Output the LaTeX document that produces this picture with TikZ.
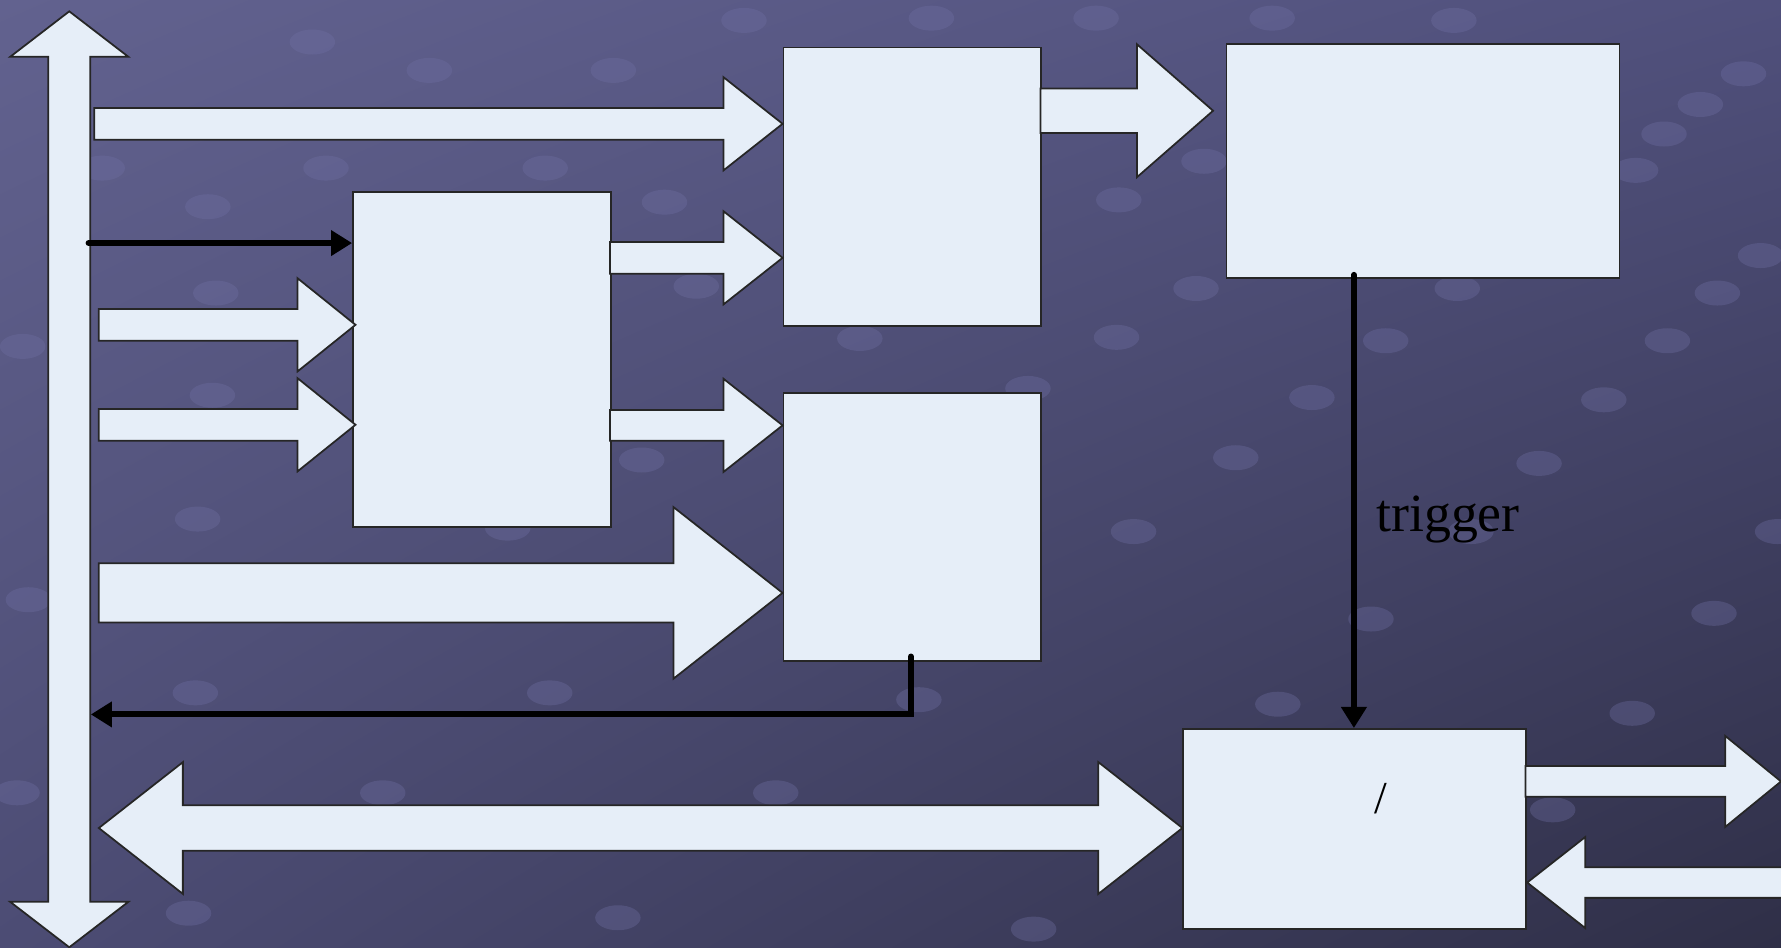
\documentclass[tikz,border=0pt]{standalone}
\usepackage{fontspec}
\setmainfont{Liberation Serif}
\usetikzlibrary{arrows.meta,calc,shadings}

\definecolor{panel}{HTML}{E6EEF8}
\definecolor{bgA}{HTML}{62628F}
\definecolor{bgB}{HTML}{50507C}
\definecolor{bgC}{HTML}{4C4C74}
\definecolor{bgD}{HTML}{2F2F47}
\definecolor{knob}{HTML}{7070A4}

\tikzset{
  box/.style={draw=black!85, line width=0.5pt, fill=panel, rectangle, inner sep=0pt, anchor=north west},
  block/.style={draw=black!85, line width=0.5pt, fill=panel, line join=miter},
  wire/.style={draw=black, line width=1.7pt, line cap=round,
    -{Triangle[length=6pt,width=7pt]}},
  knobdot/.style={fill=knob, opacity=0.35},
  lbl/.style={font=\fontsize{15.3}{18}\selectfont, text=black, inner sep=0pt},
}

% rightward block arrow: tail, tip, shaft half width, head half width, head length
\newcommand\rblock[5]{%
  \draw[block] ($(#1)+(0,-#3)$) -- ($(#2)+(-#5,-#3)$) -- ($(#2)+(-#5,-#4)$) -- (#2)
    -- ($(#2)+(-#5,#4)$) -- ($(#2)+(-#5,#3)$) -- ($(#1)+(0,#3)$) -- cycle;}
% leftward block arrow: tail, tip, shaft half width, head half width, head length
\newcommand\lblock[5]{%
  \draw[block] ($(#1)+(0,-#3)$) -- ($(#2)+(#5,-#3)$) -- ($(#2)+(#5,-#4)$) -- (#2)
    -- ($(#2)+(#5,#4)$) -- ($(#2)+(#5,#3)$) -- ($(#1)+(0,#3)$) -- cycle;}
% two-headed horizontal block arrow: left tip, right tip, shaft half, head half, head length
\newcommand\hdblock[5]{%
  \draw[block] (#1) -- ($(#1)+(#5,-#4)$) -- ($(#1)+(#5,-#3)$) -- ($(#2)+(-#5,-#3)$)
    -- ($(#2)+(-#5,-#4)$) -- (#2) -- ($(#2)+(-#5,#4)$) -- ($(#2)+(-#5,#3)$)
    -- ($(#1)+(#5,#3)$) -- ($(#1)+(#5,#4)$) -- cycle;}
% two-headed vertical block arrow: top tip, bottom tip, shaft half, head half, head length
\newcommand\vdblock[5]{%
  \draw[block] (#1) -- ($(#1)+(#4,#5)$) -- ($(#1)+(#3,#5)$) -- ($(#2)+(#3,-#5)$)
    -- ($(#2)+(#4,-#5)$) -- (#2) -- ($(#2)+(-#4,-#5)$) -- ($(#2)+(-#3,-#5)$)
    -- ($(#1)+(-#3,#5)$) -- ($(#1)+(-#4,#5)$) -- cycle;}

\begin{document}
\begin{tikzpicture}[x=0.011358cm, y=-0.011358cm]
  \useasboundingbox (0,0) rectangle (1568,834);
  \begin{scope}
    \clip (0,0) rectangle (1568,834);
    % background
    \shade[upper left=bgA, upper right=bgB, lower left=bgC, lower right=bgD]
      (0,0) rectangle (1568,834);
    % texture of small knobs
    \foreach \kx/\ky in {275/37,378/62,540/62,655/18,820/16,965/16,1120/16,1280/18,
      1535/65,1497/92,1465/118,90/148,183/182,287/148,480/148,585/178,985/176,
      1053/254,1283/254,1512/258,1220/300,1468/300,983/297,757/298,190/258,613/252,
      1155/350,1412/352,905/342,187/348,565/405,1088/403,1355/408,174/457,447/465,
      998/468,1295/468,1565/468,25/528,1207/545,1509/540,172/610,484/610,809/616,
      1125/620,1437/628,15/698,337/698,683/698,1367/713,166/804,544/808,910/818,
      1060/142,1440/150,1550/225,20/305}
      \fill[knobdot] (\kx,\ky) ellipse [x radius=20, y radius=11];

    % vertical bus
    \coordinate (bustop) at (61,10);
    \coordinate (busbot) at (61,834);
    \vdblock{bustop}{busbot}{18.5}{52}{40}

    % boxes
    \node[box, minimum width=227*0.011358cm, minimum height=245*0.011358cm] (A) at (689,41) {};
    \node[box, minimum width=346*0.011358cm, minimum height=206*0.011358cm] (B) at (1079,38) {};
    \node[box, minimum width=227*0.011358cm, minimum height=295*0.011358cm] (C) at (310,168) {};
    \node[box, minimum width=227*0.011358cm, minimum height=236*0.011358cm] (D) at (689,345) {};
    \node[box, minimum width=302*0.011358cm, minimum height=176*0.011358cm] (E) at (1041,641) {};

    % block arrows
    \coordinate (topin) at (83,109);
    \rblock{topin}{A.west |- topin}{14}{41}{52}
    \coordinate (ab) at (916,97.5);
    \coordinate (abtip) at ($(B.west |- ab)+(-11,0)$);
    \rblock{ab}{abtip}{19.5}{58.5}{67}
    \coordinate (in1) at (87,286);
    \coordinate (in1tip) at ($(C.west |- in1)+(3,0)$);
    \rblock{in1}{in1tip}{14}{41}{51}
    \coordinate (in2) at (87,374);
    \coordinate (in2tip) at ($(C.west |- in2)+(3,0)$);
    \rblock{in2}{in2tip}{14}{41}{51}
    \coordinate (ca) at (537,227);
    \rblock{ca}{A.west |- ca}{14}{41}{52}
    \coordinate (cd) at (537,374.5);
    \rblock{cd}{D.west |- cd}{13.5}{41}{52}
    \coordinate (bigin) at (87,522);
    \rblock{bigin}{D.west |- bigin}{26}{75.5}{96}
    \coordinate (dl) at (87,729);
    \hdblock{dl}{E.west |- dl}{20}{58}{74}
    \coordinate (eout) at (1343,688);
    \coordinate (eouttip) at (1568,688);
    \rblock{eout}{eouttip}{13.5}{40}{49}
    \coordinate (einsrc) at (1580,777);
    \lblock{einsrc}{E.east |- einsrc}{13.5}{40}{51}

    % control wires
    \coordinate (busc) at (78,214);
    \draw[wire] (busc) -- (C.west |- busc);
    \coordinate (dfoot) at (802,578);
    \coordinate (busd) at (80,629);
    \draw[wire] (dfoot) -- (dfoot |- busd) -- (busd);
    \coordinate (btrig) at (1192,242);
    \draw[wire] (btrig) -- (btrig |- E.north)
      node[lbl, pos=0.54, right=5.5pt] {trigger};

    % label inside E
    \node[font=\fontsize{13}{15}\selectfont, inner sep=0pt] (slash) at (1216,703) {/};
  \end{scope}
\end{tikzpicture}
\end{document}
